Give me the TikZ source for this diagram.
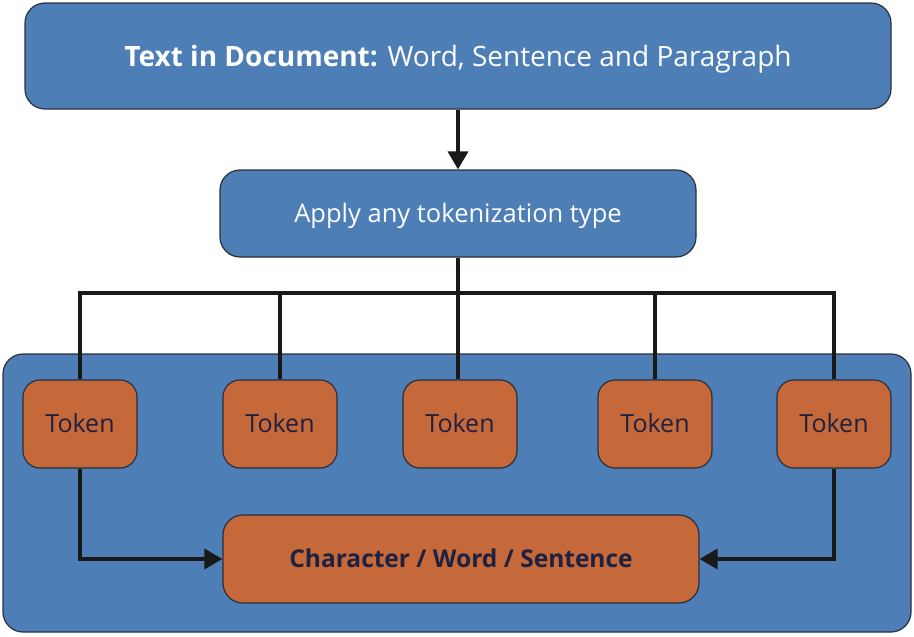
\documentclass[tikz,border=0pt]{standalone}
\usepackage{fontspec}
\setmainfont{Open Sans}
\usetikzlibrary{arrows.meta}
\definecolor{boxblue}{HTML}{4E7EB6}
\definecolor{boxorange}{HTML}{C5683A}
\definecolor{darktext}{HTML}{1E2140}
\definecolor{edge}{HTML}{2A2F3A}
\tikzset{
  bluebox/.style={draw=edge, line width=1.2pt, fill=boxblue, rounded corners=20pt, text=white, inner sep=0pt, text depth=0pt},
  orangebox/.style={draw=edge, line width=1.2pt, fill=boxorange, rounded corners=17pt, text=darktext, inner sep=0pt, text depth=0pt},
  conn/.style={draw=black!90, line width=3.4pt},
  arr/.style={conn, -{Triangle[length=18pt,width=20pt]}},
}
\begin{document}
\begin{tikzpicture}[x=1pt,y=-1pt]
\useasboundingbox (0,0) rectangle (914,637);
% container
\node[bluebox, minimum width=908pt, minimum height=278pt] (cont) at (457,493) {};
% top box
\node[bluebox, minimum width=866pt, minimum height=106pt, text height=20pt, font=\fontsize{28}{32}\selectfont] (top) at (458,56) {\textbf{Text in Document:} Word, Sentence and Paragraph};
\node[bluebox, minimum width=476pt, minimum height=87pt, text height=18.2pt, font=\fontsize{25.5}{30}\selectfont] (apply) at (458,213.5) {Apply any tokenization type};
% tokens
\foreach \n/\x in {1/80,2/280,3/460,4/655,5/834}{
  \node[orangebox, minimum width=114pt, minimum height=88pt, text height=17.9pt, font=\fontsize{25}{30}\selectfont] (t\n) at (\x,424) {Token};
}
\node[orangebox, rounded corners=20pt, minimum width=476pt, minimum height=88pt, text height=17.5pt, font=\bfseries\fontsize{24.5}{30}\selectfont] (res) at (461,559) {Character / Word / Sentence};
% connectors
\draw[arr] (top.south -| apply.north) -- (apply.north);
\coordinate (bus) at (458,293);
\draw[conn] (apply.south) -- (apply.south |- t3.north);
\draw[conn] (t1.north) |- (t5.north |- bus) -- (t5.north);
\draw[conn] (t2.north) -- (t2.north |- bus);
\draw[conn] (t4.north) -- (t4.north |- bus);
\draw[arr] (t1.south) |- (res.west);
\draw[arr] (t5.south) |- (res.east);
\end{tikzpicture}
\end{document}
